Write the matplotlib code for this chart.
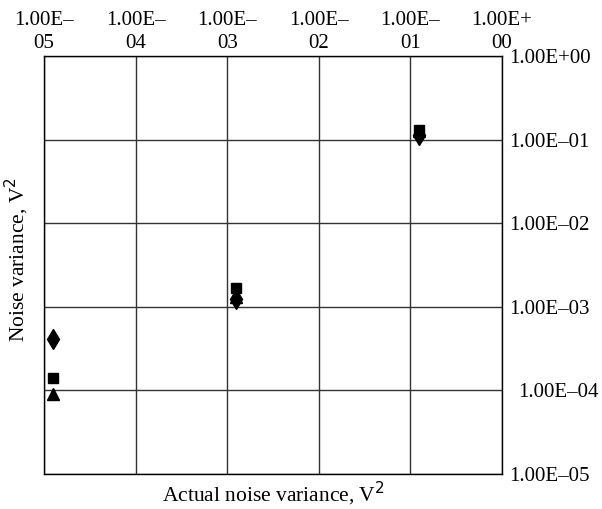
import matplotlib
matplotlib.use("Agg")
import matplotlib.pyplot as plt
import matplotlib.transforms as mtransforms
from matplotlib.ticker import FixedLocator, NullLocator

# Data
actual = [1.25e-5, 1.25e-3, 1.24e-1]
series_diamond = [4.1e-4, 1.25e-3, 1.15e-1]
series_square = [1.4e-4, 1.7e-3, 1.3e-1]
series_triangle = [9.0e-5, 1.3e-3, 1.25e-1]

x_ticks = [1e-5, 1e-4, 1e-3, 1e-2, 1e-1, 1e0]
x_tick_labels = ["1.00E–\n05", "1.00E–\n04", "1.00E–\n03", "1.00E–\n02", "1.00E–\n01", "1.00E+\n00"]
y_ticks = [1e-5, 1e-4, 1e-3, 1e-2, 1e-1, 1e0]
y_tick_labels = ["1.00E–05", "1.00E–04", "1.00E–03", "1.00E–02", "1.00E–01", "1.00E+00"]

plt.rcParams['font.family'] = ['Liberation Serif', 'DejaVu Serif']

fig = plt.figure(figsize=(6.02, 5.09), dpi=100)
ax = fig.add_axes([44/602, 1-474/509, (502-44)/602, (474-56)/509])
ax.set_xscale('log')
ax.set_yscale('log')
ax.set_xlim(1e-5, 1e0)
ax.set_ylim(1e-5, 1e0)

ax.plot(actual, series_triangle, linestyle='none', marker='^', color='black', ms=8)
ax.plot(actual, series_diamond, linestyle='none', marker='d', color='black', ms=10)
ax.plot(actual, series_square, linestyle='none', marker='s', color='black', ms=7)

ax.xaxis.set_major_locator(FixedLocator(x_ticks))
ax.yaxis.set_major_locator(FixedLocator(y_ticks))
ax.xaxis.set_minor_locator(NullLocator())
ax.yaxis.set_minor_locator(NullLocator())
ax.set_xticklabels(x_tick_labels, multialignment='center', linespacing=1.3)
ax.set_yticklabels(y_tick_labels)
ax.xaxis.tick_top()
ax.yaxis.tick_right()
ax.tick_params(axis='both', length=0, labelsize=15)
ax.tick_params(axis='x', pad=2)
ax.tick_params(axis='y', pad=5)

ax.grid(True, which='major', color='#333333', linewidth=1)
for s in ax.spines.values():
    s.set_color('black')
    s.set_linewidth(1)

ax.set_ylabel("Noise variance, V$^2$", fontsize=15.5)
ax.yaxis.set_label_position('left')
ax.yaxis.set_label_coords(-0.028, 0.514)
ax.set_xlabel("Actual noise variance, V$^2$", fontsize=15.5, labelpad=4)
ax.xaxis.set_label_position('bottom')

# shift 1.00E-04 label slightly right as in reference
lbl = ax.get_yticklabels()[1]
lbl.set_transform(lbl.get_transform() + mtransforms.ScaledTranslation(9/100, 0, fig.dpi_scale_trans))

fig.savefig("out.png", dpi=100)
